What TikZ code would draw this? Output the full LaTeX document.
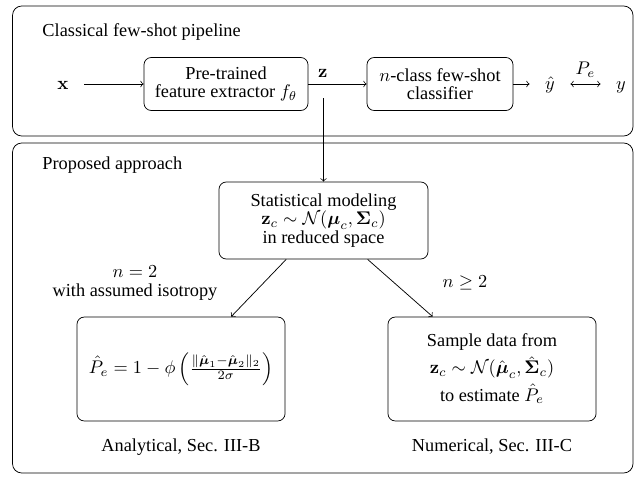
\documentclass[tikz,border=0pt]{standalone}
\usepackage[no-math]{fontspec}
\setmainfont{Liberation Serif}
\usepackage{amsmath}
\usepackage{amssymb}
\usetikzlibrary{positioning}

\begin{document}
\begin{tikzpicture}
	  [x=0.5464pt,y=-0.5464pt,every path/.style={>=to},
	   every node/.style={font=\fontsize{10}{10}\selectfont},
	   block/.style={draw,rounded corners=4pt,align=center,inner sep=2pt},
	   panel/.style={draw,rounded corners=5pt,minimum width=339pt},
	   sym/.style={text height=1.6ex,text depth=.3ex}]
	  \useasboundingbox (0,0) rectangle (635,477);

	  % two panels
	  \node[panel,minimum height=71pt] (classical) at (322.75,71) {};
	  \node[panel,minimum height=180.3pt] (proposed) at (322.75,308) {};
	  \node[anchor=west] (clstitle) at (36,32) {Classical few-shot pipeline};
	  \node[anchor=west] (proptitle) at (36,165) {Proposed approach};

	  % classical pipeline
	  \node[sym] (x) at (63,84) {$\mathbf{x}$};
	  \node[block,minimum width=89.6pt,minimum height=29pt] (extr) at (226,84) {Pre-trained\\feature extractor $f_\theta$};
	  \node[block,minimum width=79.8pt,minimum height=29pt] (clsf) at (440,84) {$n$-class few-shot\\classifier};
	  \node[sym] (yhat) at (550,84) {$\hat{y}$};
	  \node[sym] (y) at (621,84) {$y$};
	  \coordinate (ztap) at (323.5,98);

	  \draw[->,shorten <=5pt] (x) -- (extr);
	  \draw[->] (extr) -- node[pos=.25,above] (z) {$\mathbf{z}$} (clsf);
	  \draw[->,shorten >=5pt] (clsf) -- (yhat);
	  \draw[<->,shorten <=5pt,shorten >=5pt] (yhat) -- node[above] (pe) {$P_e$} (y);

	  % proposed approach
	  \node[block,minimum width=114.2pt,minimum height=42.1pt] (stat) at (323.5,220.5)
	    {Statistical modeling\\$\mathbf{z}_c\sim\mathcal{N}(\boldsymbol{\mu}_c,\boldsymbol{\Sigma}_c)$\\in reduced space};
	  \node[block,minimum width=113.7pt,minimum height=56.8pt] (anal) at (181,369)
	    {$\hat{P}_e=1-\phi\left(\frac{\|\hat{\boldsymbol{\mu}}_1-\hat{\boldsymbol{\mu}}_2\|_2}{2\sigma}\right)$};
	  \node[block,minimum width=113.7pt,minimum height=56.8pt] (numr) at (492,369)
	    {Sample data from\\[2pt]$\mathbf{z}_c\sim\mathcal{N}(\hat{\boldsymbol{\mu}}_c,\hat{\boldsymbol{\Sigma}}_c)$\\[2pt]to estimate $\hat{P}_e$};
	  \node[below=6pt of anal] (analcap) {Analytical, Sec. III-B};
	  \node[below=6pt of numr] (numrcap) {Numerical, Sec. III-C};
	  \node[align=center] (twocls) at (135,283) {$n=2$\\with assumed isotropy};
	  \node (anycls) at (465,283) {$n\geq 2$};

	  \draw[->] (ztap) -- (stat);
	  \foreach \to in {anal,numr}
	    \draw[->] (stat) -- (\to);
	\end{tikzpicture}
\end{document}
